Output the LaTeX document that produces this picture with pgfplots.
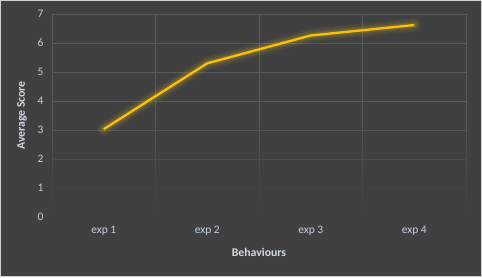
\documentclass[border=0pt]{standalone}
\usepackage{fontspec}
\setmainfont{Carlito}
\usepackage{pgfplots}
\pgfplotsset{compat=1.18}
\definecolor{bg}{HTML}{404040}
\definecolor{frame}{HTML}{D0D0D0}
\definecolor{gridc}{HTML}{5A5A5A}
\definecolor{tickc}{HTML}{C5D0DE}
\definecolor{titc}{HTML}{D2D8E0}
\definecolor{lineC}{HTML}{FFC000}
\definecolor{glow}{HTML}{C0A830}
\begin{document}
\begin{tikzpicture}[x=1bp,y=1bp]
\fill[bg, draw=frame, line width=1bp] (0.5,0.5) rectangle (481.5,276.5);
\useasboundingbox (0,0) rectangle (482,277);
\begin{axis}[
  at={(52bp,60bp)}, anchor=south west,
  width=414bp, height=203bp, scale only axis,
  xmin=0.5, xmax=4.5, ymin=0, ymax=7, clip=false,
  axis line style={draw=none},
  xtick={1,2,3,4}, xticklabels={exp 1,exp 2,exp 3,exp 4},
  ytick={0,1,2,3,4,5,6,7},
  major tick length=0pt, minor tick length=0pt,
  /pgf/number format/assume math mode=true,
  tick label style={tickc, font=\fontsize{11.5}{13}\selectfont},
  xticklabel style={yshift=-6bp},
  yticklabel style={xshift=-5bp},
  xlabel={Behaviours}, ylabel={Average Score},
  every axis x label/.style={at={(axis description cs:0.5,-0.172)}, anchor=center},
  every axis y label/.style={at={(axis description cs:-0.0725,0.5)}, rotate=90, anchor=center},
  xlabel style={text=titc, font=\bfseries\fontsize{11.8}{13}\selectfont},
  ylabel style={text=titc, font=\bfseries\fontsize{11.8}{13}\selectfont},
]
% horizontal gridlines, fading toward the bottom
\draw[gridc, line width=1bp] (axis cs:0.5,7) -- (axis cs:4.5,7);
\draw[gridc, line width=1bp] (axis cs:0.5,6) -- (axis cs:4.5,6);
\draw[gridc, line width=1bp] (axis cs:0.5,5) -- (axis cs:4.5,5);
\draw[gridc, line width=1bp] (axis cs:0.5,4) -- (axis cs:4.5,4);
\draw[gridc!85!bg, line width=1bp] (axis cs:0.5,3) -- (axis cs:4.5,3);
\draw[gridc!45!bg, line width=1bp] (axis cs:0.5,2) -- (axis cs:4.5,2);
\draw[gridc!15!bg, line width=1bp] (axis cs:0.5,1) -- (axis cs:4.5,1);
% vertical gridlines, fading toward the bottom in small steps
\pgfplotsinvokeforeach{0.5,1.5,2.5,3.5,4.5}{
  \draw[gridc, line width=1bp] (axis cs:#1,3.4) -- (axis cs:#1,7);
  \draw[gridc!90!bg, line width=1bp] (axis cs:#1,3.0) -- (axis cs:#1,3.4);
  \draw[gridc!78!bg, line width=1bp] (axis cs:#1,2.6) -- (axis cs:#1,3.0);
  \draw[gridc!64!bg, line width=1bp] (axis cs:#1,2.2) -- (axis cs:#1,2.6);
  \draw[gridc!50!bg, line width=1bp] (axis cs:#1,1.8) -- (axis cs:#1,2.2);
  \draw[gridc!37!bg, line width=1bp] (axis cs:#1,1.4) -- (axis cs:#1,1.8);
  \draw[gridc!25!bg, line width=1bp] (axis cs:#1,1.0) -- (axis cs:#1,1.4);
  \draw[gridc!14!bg, line width=1bp] (axis cs:#1,0.6) -- (axis cs:#1,1.0);
  \draw[gridc!6!bg, line width=1bp] (axis cs:#1,0.2) -- (axis cs:#1,0.6);
}
\addplot[glow, line width=13bp, opacity=0.09, line join=round, line cap=round] coordinates {(1,3.03) (2,5.3) (3,6.26) (4,6.62)};
\addplot[glow, line width=9bp, opacity=0.12, line join=round, line cap=round] coordinates {(1,3.03) (2,5.3) (3,6.26) (4,6.62)};
\addplot[glow, line width=5.5bp, opacity=0.18, line join=round, line cap=round] coordinates {(1,3.03) (2,5.3) (3,6.26) (4,6.62)};
\addplot[lineC, line width=2.3bp, line join=round] coordinates {(1,3.03) (2,5.3) (3,6.26) (4,6.62)};
\end{axis}
\end{tikzpicture}
\end{document}
